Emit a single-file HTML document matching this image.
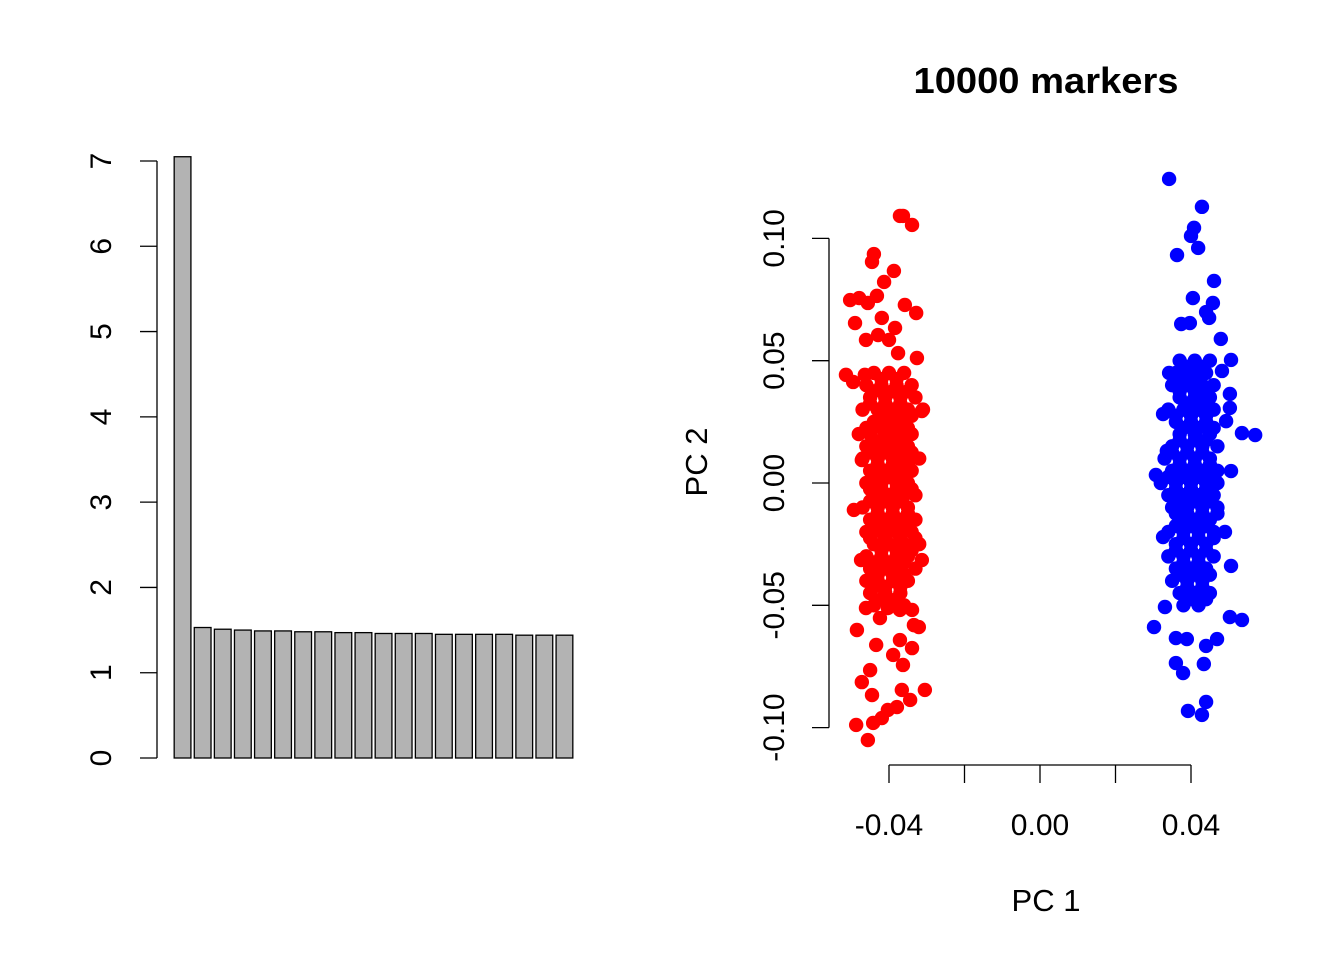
<!DOCTYPE html>
<html><head><meta charset="utf-8"><style>
html,body{margin:0;padding:0;background:#fff;}
svg{display:block;font-family:"Liberation Sans",Arial,sans-serif;}
</style></head><body>
<svg id="chart" width="1344" height="960" viewBox="0 0 1344 960">
<g id="left"></g>
<g id="right"></g>
</svg>
<script>
const barValues = [7.05,1.53,1.51,1.50,1.49,1.49,1.48,1.48,1.47,1.47,1.46,1.46,1.46,1.45,1.45,1.45,1.45,1.44,1.44,1.44];
const barTicks = [0,1,2,3,4,5,6,7];
const pc1Ticks = [-0.04,-0.02,0,0.02,0.04];
const pc1Labels = ["-0.04","","0.00","","0.04"];
const pc2Ticks = [-0.10,-0.05,0,0.05,0.10];
const pc2Labels = ["-0.10","-0.05","0.00","0.05","0.10"];
const redPoints = [
[-0.0371,0.1092],[-0.0363,0.1092],[-0.0339,0.1055],[-0.0440,0.0936],[-0.0445,0.0904],[-0.0387,0.0867],[-0.0413,0.0822],[-0.0479,0.0756],[-0.0432,0.0765],[-0.0503,0.0748],[-0.0456,0.0736],[-0.0358,0.0728],[-0.0328,0.0695],[-0.0490,0.0654],[-0.0419,0.0675],[-0.0384,0.0634],[-0.0461,0.0585],[-0.0429,0.0605],[-0.0400,0.0585],[-0.0376,0.0531],[-0.0326,0.0511],[-0.0464,0.0442],[-0.0514,0.0442],[-0.0495,0.0413],[-0.0313,0.0294],[-0.0472,0.0094],[-0.0493,-0.0110],[-0.0474,-0.0315],[-0.0313,-0.0315],[-0.0485,-0.0601],[-0.0434,-0.0662],[-0.0371,-0.0642],[-0.0334,-0.0581],[-0.0321,-0.0589],[-0.0339,-0.0675],[-0.0389,-0.0703],[-0.0363,-0.0744],[-0.0450,-0.0765],[-0.0366,-0.0846],[-0.0305,-0.0846],[-0.0472,-0.0814],[-0.0445,-0.0867],[-0.0487,-0.0989],[-0.0442,-0.0981],[-0.0456,-0.1051],[-0.0419,-0.0961],[-0.0379,-0.0916],[-0.0344,-0.0887],[-0.0403,-0.0928],[-0.0424,-0.0552],[-0.0403,-0.0511],[-0.0371,-0.0519],[-0.0339,-0.0519],[-0.0461,-0.0511],
[-0.044,0.045],[-0.040,0.045],[-0.036,0.045],
[-0.046,0.040],[-0.042,0.040],[-0.038,0.040],[-0.034,0.040],
[-0.045,0.035],[-0.041,0.035],[-0.037,0.035],[-0.033,0.035],
[-0.047,0.030],[-0.043,0.030],[-0.039,0.030],[-0.035,0.030],[-0.031,0.030],
[-0.044,0.025],[-0.040,0.025],[-0.036,0.025],
[-0.048,0.020],[-0.045,0.020],[-0.041,0.020],[-0.037,0.020],[-0.034,0.020],
[-0.046,0.015],[-0.042,0.015],[-0.038,0.015],[-0.035,0.015],
[-0.047,0.010],[-0.043,0.010],[-0.039,0.010],[-0.036,0.010],[-0.032,0.010],
[-0.045,0.005],[-0.041,0.005],[-0.037,0.005],[-0.034,0.005],
[-0.046,0.000],[-0.042,0.000],[-0.038,0.000],[-0.035,0.000],
[-0.044,-0.005],[-0.040,-0.005],[-0.036,-0.005],[-0.033,-0.005],
[-0.047,-0.010],[-0.043,-0.010],[-0.039,-0.010],[-0.035,-0.010],
[-0.045,-0.015],[-0.041,-0.015],[-0.037,-0.015],[-0.033,-0.015],
[-0.046,-0.020],[-0.042,-0.020],[-0.038,-0.020],[-0.034,-0.020],
[-0.044,-0.025],[-0.040,-0.025],[-0.036,-0.025],[-0.032,-0.025],
[-0.046,-0.030],[-0.042,-0.030],[-0.038,-0.030],[-0.035,-0.030],
[-0.045,-0.035],[-0.041,-0.035],[-0.037,-0.035],[-0.033,-0.035],
[-0.046,-0.040],[-0.043,-0.040],[-0.039,-0.040],[-0.035,-0.040],
[-0.045,-0.045],[-0.041,-0.045],[-0.037,-0.045],
[-0.044,-0.050],[-0.040,-0.050],[-0.036,-0.050],
[-0.042,0.0425],[-0.038,0.0425],[-0.044,0.0375],[-0.039,0.0375],[-0.035,0.0375],
[-0.045,0.0325],[-0.041,0.0325],[-0.037,0.0325],[-0.042,0.0275],[-0.038,0.0275],[-0.034,0.0275],
[-0.046,0.0225],[-0.042,0.0225],[-0.039,0.0225],[-0.035,0.0225],[-0.044,0.0175],[-0.040,0.0175],[-0.036,0.0175],
[-0.045,0.0125],[-0.041,0.0125],[-0.037,0.0125],[-0.034,0.0125],[-0.043,0.0075],[-0.039,0.0075],[-0.035,0.0075],
[-0.044,0.0025],[-0.040,0.0025],[-0.036,0.0025],[-0.045,-0.0025],[-0.042,-0.0025],[-0.038,-0.0025],[-0.034,-0.0025],
[-0.045,-0.0075],[-0.041,-0.0075],[-0.037,-0.0075],[-0.043,-0.0125],[-0.039,-0.0125],[-0.035,-0.0125],
[-0.044,-0.0175],[-0.040,-0.0175],[-0.036,-0.0175],[-0.045,-0.0225],[-0.041,-0.0225],[-0.037,-0.0225],[-0.033,-0.0225],
[-0.042,-0.0275],[-0.038,-0.0275],[-0.034,-0.0275],[-0.044,-0.0325],[-0.040,-0.0325],[-0.036,-0.0325],
[-0.043,-0.0375],[-0.039,-0.0375],[-0.036,-0.0375],[-0.044,-0.0425],[-0.041,-0.0425],[-0.037,-0.0425],
[-0.042,-0.0475],[-0.038,-0.0475]
];
const bluePoints = [
[0.0342,0.1243],[0.0429,0.1129],[0.0408,0.1043],[0.0400,0.1010],[0.0419,0.0961],[0.0363,0.0932],[0.0461,0.0826],[0.0405,0.0756],[0.0458,0.0736],[0.0440,0.0699],[0.0448,0.0675],[0.0374,0.0650],[0.0397,0.0654],[0.0479,0.0589],[0.0506,0.0503],[0.0482,0.0458],[0.0342,0.0450],[0.0503,0.0364],[0.0503,0.0307],[0.0326,0.0282],[0.0493,0.0253],[0.0535,0.0204],[0.0570,0.0196],[0.0336,0.0131],[0.0307,0.0033],[0.0506,0.0049],[0.0326,-0.0221],[0.0506,-0.0339],[0.0535,-0.0560],[0.0302,-0.0589],[0.0469,-0.0638],[0.0360,-0.0736],[0.0434,-0.0740],[0.0379,-0.0777],[0.0440,-0.0895],[0.0392,-0.0932],[0.0429,-0.0948],[0.0331,-0.0507],[0.0503,-0.0548],[0.0360,-0.0634],[0.0389,-0.0638],[0.0440,-0.0666],
[0.037,0.050],[0.041,0.050],[0.045,0.050],
[0.036,0.045],[0.040,0.045],[0.044,0.045],
[0.035,0.040],[0.039,0.040],[0.043,0.040],[0.046,0.040],
[0.037,0.035],[0.041,0.035],[0.045,0.035],
[0.034,0.030],[0.038,0.030],[0.042,0.030],[0.046,0.030],
[0.036,0.025],[0.040,0.025],[0.044,0.025],
[0.037,0.020],[0.041,0.020],[0.045,0.020],
[0.035,0.015],[0.039,0.015],[0.043,0.015],[0.047,0.015],
[0.033,0.010],[0.037,0.010],[0.041,0.010],[0.045,0.010],
[0.035,0.005],[0.039,0.005],[0.043,0.005],[0.047,0.005],
[0.032,0.000],[0.036,0.000],[0.040,0.000],[0.044,0.000],[0.047,0.000],
[0.034,-0.005],[0.038,-0.005],[0.042,-0.005],[0.046,-0.005],
[0.035,-0.010],[0.039,-0.010],[0.043,-0.010],[0.047,-0.010],
[0.037,-0.015],[0.041,-0.015],[0.045,-0.015],
[0.034,-0.020],[0.038,-0.020],[0.042,-0.020],[0.046,-0.020],[0.049,-0.020],
[0.036,-0.025],[0.040,-0.025],[0.044,-0.025],
[0.034,-0.030],[0.038,-0.030],[0.042,-0.030],[0.046,-0.030],
[0.036,-0.035],[0.040,-0.035],[0.044,-0.035],
[0.035,-0.040],[0.039,-0.040],[0.043,-0.040],
[0.037,-0.045],[0.041,-0.045],[0.045,-0.045],
[0.038,-0.050],[0.042,-0.050],
[0.039,0.0475],[0.043,0.0475],[0.038,0.0425],[0.042,0.0425],[0.037,0.0375],[0.041,0.0375],[0.044,0.0375],
[0.039,0.0325],[0.043,0.0325],[0.036,0.0275],[0.040,0.0275],[0.044,0.0275],[0.038,0.0225],[0.042,0.0225],[0.046,0.0225],
[0.037,0.0175],[0.041,0.0175],[0.044,0.0175],[0.035,0.0125],[0.039,0.0125],[0.043,0.0125],[0.037,0.0075],[0.041,0.0075],[0.045,0.0075],
[0.034,0.0025],[0.038,0.0025],[0.042,0.0025],[0.046,0.0025],[0.036,-0.0025],[0.040,-0.0025],[0.044,-0.0025],
[0.037,-0.0075],[0.041,-0.0075],[0.045,-0.0075],[0.036,-0.0125],[0.039,-0.0125],[0.043,-0.0125],[0.047,-0.0125],
[0.036,-0.0175],[0.040,-0.0175],[0.044,-0.0175],[0.038,-0.0225],[0.042,-0.0225],[0.046,-0.0225],
[0.036,-0.0275],[0.040,-0.0275],[0.044,-0.0275],[0.038,-0.0325],[0.042,-0.0325],[0.037,-0.0375],[0.041,-0.0375],[0.045,-0.0375],
[0.039,-0.0425],[0.043,-0.0425],[0.040,-0.0475],[0.044,-0.0475]
];

const NS = "http://www.w3.org/2000/svg";
function mk(parent, tag, attrs, text){
  const e = document.createElementNS(NS, tag);
  for (const k in attrs) e.setAttribute(k, attrs[k]);
  if (text !== undefined) e.textContent = text;
  parent.appendChild(e);
  return e;
}

// Left barplot
const L = document.getElementById('left');
const by = v => 758 - v * (758 - 161) / 7;
const slot = (575 - 173) / barValues.length;
const bw = slot / 1.2;
barValues.forEach((v, i) => {
  const x0 = 173 + i * slot + (slot - bw) / 2 - 0.5;
  const r = mk(L, 'rect', {x: x0, y: by(v), width: bw, height: by(0) - by(v), fill: '#b3b3b3', stroke: '#000', 'stroke-width': 1.3});
  
  
});
const la = mk(L, 'line', {x1: 157, x2: 157, y1: by(0), y2: by(7), stroke: '#000', 'stroke-width': 1.3});


barTicks.forEach(t => {
  mk(L, 'line', {x1: 140, x2: 157, y1: by(t), y2: by(t), stroke: '#000', 'stroke-width': 1.3});
  const tx = mk(L, 'text', {x: 0, y: 0, 'font-size': 30, 'text-anchor': 'middle', transform: `translate(111,${by(t)}) rotate(-90)`}, String(t));
  
  
});

// Right scatter
const R = document.getElementById('right');
const sx = v => 1040 + v * 3775;
const sy = v => 483 - v * 2446;
const title = mk(R, 'text', {x: 1046, y: 93, 'font-size': 36, 'font-weight': 'bold', 'text-anchor': 'middle', textLength: 265, lengthAdjust: 'spacingAndGlyphs'}, '10000 markers');


const xl = mk(R, 'text', {x: 1046, y: 911, 'font-size': 31, 'text-anchor': 'middle'}, 'PC 1');


const yl = mk(R, 'text', {x: 0, y: 0, 'font-size': 31, 'text-anchor': 'middle', transform: 'translate(707,462) rotate(-90)'}, 'PC 2');



const xa = mk(R, 'line', {x1: sx(pc1Ticks[0]), x2: sx(pc1Ticks[pc1Ticks.length - 1]), y1: 765, y2: 765, stroke: '#000', 'stroke-width': 1.3});


pc1Ticks.forEach((t, i) => {
  mk(R, 'line', {x1: sx(t), x2: sx(t), y1: 765, y2: 783, stroke: '#000', 'stroke-width': 1.3});
  if (pc1Labels[i]) {
    const tx = mk(R, 'text', {x: sx(t), y: 835, 'font-size': 30, 'text-anchor': 'middle'}, pc1Labels[i]);
    
    
  }
});
const ya = mk(R, 'line', {x1: 829, x2: 829, y1: sy(pc2Ticks[0]), y2: sy(pc2Ticks[pc2Ticks.length - 1]), stroke: '#000', 'stroke-width': 1.3});


pc2Ticks.forEach((t, i) => {
  mk(R, 'line', {x1: 812, x2: 829, y1: sy(t), y2: sy(t), stroke: '#000', 'stroke-width': 1.3});
  const tx = mk(R, 'text', {x: 0, y: 0, 'font-size': 30, 'text-anchor': 'middle', transform: `translate(784,${sy(t)}) rotate(-90)`}, pc2Labels[i]);
  
  
});
redPoints.forEach(p => {
  const c = mk(R, 'circle', {cx: sx(p[0]), cy: sy(p[1]), r: 7.2, fill: '#ff0000'});
  
  
});
bluePoints.forEach(p => {
  const c = mk(R, 'circle', {cx: sx(p[0]), cy: sy(p[1]), r: 7.2, fill: '#0000ff'});
  
  
});
</script>
</body></html>
